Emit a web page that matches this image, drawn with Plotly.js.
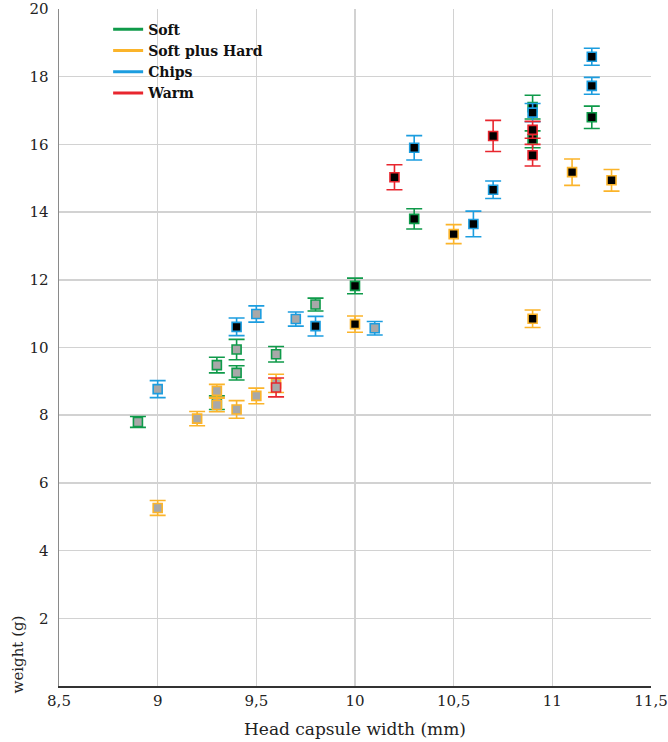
<!DOCTYPE html>
<html>
<head>
<meta charset="utf-8">
<script src="https://cdn.plot.ly/plotly-3.0.1.min.js"></script>
<style>html,body{margin:0;padding:0;background:#fff;}#chart{width:668px;height:742px;}</style>
</head>
<body>
<div id="chart"></div>
<script>
// ---- data ----
const seriesNames = ["Soft", "Soft plus Hard", "Chips", "Warm"];

const softX     = [8.9, 9.3, 9.3, 9.4, 9.4, 9.6, 9.8, 10.0, 10.3, 10.9, 10.9, 11.2];
const softY     = [7.8, 9.48, 8.37, 9.94, 9.25, 9.8, 11.27, 11.82, 13.8, 17.1, 16.15, 16.8];
const softErr   = [0.16, 0.23, 0.2, 0.3, 0.21, 0.23, 0.19, 0.23, 0.3, 0.35, 0.25, 0.33];
const softShade = ["light","light","light","light","light","light","light","dark","dark","dark","dark","dark"];

const hardX     = [9.0, 9.2, 9.3, 9.3, 9.4, 9.5, 9.6, 10.0, 10.5, 10.9, 11.1, 11.3];
const hardY     = [5.26, 7.9, 8.72, 8.3, 8.17, 8.57, 8.94, 10.69, 13.35, 10.85, 15.18, 14.94];
const hardErr   = [0.22, 0.21, 0.19, 0.2, 0.26, 0.23, 0.27, 0.24, 0.28, 0.26, 0.39, 0.32];
const hardShade = ["light","light","light","light","light","light","light","dark","dark","dark","dark","dark"];

const chipsX     = [9.0, 9.4, 9.5, 9.7, 9.8, 10.1, 10.3, 10.6, 10.7, 10.9, 11.2, 11.2];
const chipsY     = [8.77, 10.61, 10.99, 10.84, 10.63, 10.57, 15.9, 13.65, 14.66, 16.94, 17.73, 18.59];
const chipsErr   = [0.25, 0.26, 0.24, 0.21, 0.29, 0.2, 0.36, 0.38, 0.26, 0.27, 0.25, 0.25];
const chipsShade = ["light","dark","light","light","dark","light","dark","dark","dark","dark","dark","dark"];

const warmX     = [9.6, 10.2, 10.7, 10.9, 10.9];
const warmY     = [8.82, 15.03, 16.25, 16.43, 15.68];
const warmErr   = [0.28, 0.37, 0.46, 0.25, 0.32];
const warmShade = ["light","dark","dark","dark","dark"];

const xTickVals = [8.5, 9, 9.5, 10, 10.5, 11, 11.5];
const xTickText = ["8,5", "9", "9,5", "10", "10,5", "11", "11,5"];
const yTickVals = [2, 4, 6, 8, 10, 12, 14, 16, 18, 20];

// ---- styles ----
const colors = ["#0f9a4a", "#fbb42a", "#1c9ddf", "#e8262e"];
const shadeFill = {light: "#a8a8a8", dark: "#000000"};
const FONT = "DejaVu Serif, Liberation Serif, serif";

const sets = [
  [softX, softY, softErr, softShade],
  [hardX, hardY, hardErr, hardShade],
  [chipsX, chipsY, chipsErr, chipsShade],
  [warmX, warmY, warmErr, warmShade]
];

const traces = [];
sets.forEach((s, i) => {
  traces.push({
    type: "scatter", mode: "markers",
    x: s[0], y: s[1], name: seriesNames[i], showlegend: false,
    marker: {symbol: "square", size: 9, color: s[3].map(k => shadeFill[k]),
             line: {color: colors[i], width: 1.6}},
    error_y: {type: "data", array: s[2], visible: true, color: colors[i], thickness: 1.6, width: 8}
  });
});
// legend entries (line swatches)
seriesNames.forEach((n, i) => {
  traces.push({
    type: "scatter", mode: "lines", x: [null], y: [null], name: n,
    line: {color: colors[i], width: 3}, showlegend: true, hoverinfo: "skip"
  });
});

const layout = {
  width: 668, height: 742,
  margin: {l: 59, r: 17, t: 9, b: 56},
  paper_bgcolor: "#ffffff", plot_bgcolor: "#ffffff",
  font: {family: FONT, color: "#222222", size: 14},
  showlegend: true,
  legend: {x: 0.083, y: 0.993, xanchor: "left", yanchor: "top",
           bgcolor: "rgba(0,0,0,0)", font: {family: FONT, size: 14, color: "#111", weight: "bold"},
           tracegroupgap: 0, itemwidth: 30},
  xaxis: {
    range: [8.5, 11.5], tickmode: "array", tickvals: xTickVals, ticktext: xTickText,
    showgrid: true, gridcolor: "#d2d2d2", gridwidth: 1.5,
    showline: true, linecolor: "#333333", linewidth: 1.5,
    ticks: "", zeroline: false,
    tickfont: {family: FONT, size: 15, color: "#222"},
    title: {text: "Head capsule width (mm)", font: {family: FONT, size: 17, color: "#222"}, standoff: 14}
  },
  yaxis: {
    range: [0, 20], tickmode: "array", tickvals: yTickVals,
    showgrid: true, gridcolor: "#d2d2d2", gridwidth: 1.5,
    showline: true, linecolor: "#8a8a8a", linewidth: 1.5,
    ticks: "", zeroline: false, ticklabelstandoff: 6,
    tickfont: {family: FONT, size: 15, color: "#222"}
  },
  annotations: [{
    text: "weight (g)", xref: "paper", yref: "paper", x: -0.07, y: 0.046,
    xanchor: "center", yanchor: "middle", textangle: -90, showarrow: false,
    font: {family: FONT, size: 15, color: "#222"}
  }]
};

Plotly.newPlot("chart", traces, layout, {displayModeBar: false, staticPlot: true});
</script>
</body>
</html>
